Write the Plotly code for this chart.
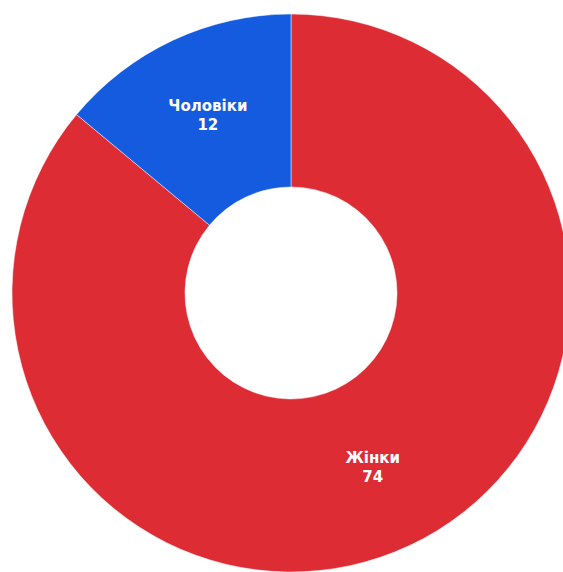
import plotly.graph_objects as go

labels = ["Жінки", "Чоловіки"]
values = [74, 12]
colors = ["#DE2C35", "#155BE0"]

fig = go.Figure(go.Pie(
    labels=labels,
    values=values,
    hole=0.38,
    sort=False,
    direction="clockwise",
    rotation=0,
    marker=dict(colors=colors, line=dict(color="rgba(255,255,255,0.6)", width=0.8)),
    textinfo="label+value",
    textposition="inside",
    insidetextorientation="horizontal",
    textfont=dict(family="DejaVu Sans", size=15, color="white", weight="bold"),
    showlegend=False,
    hoverinfo="label+value",
))

fig.update_layout(
    width=582,
    height=586,
    margin=dict(l=12, r=12, t=14, b=14),
    paper_bgcolor="white",
    plot_bgcolor="white",
)

fig.write_html(
    "out.html",
    config={"displayModeBar": False},
    post_script="document.body.style.margin='0';document.body.style.overflow='hidden';document.documentElement.style.overflow='hidden';",
)
